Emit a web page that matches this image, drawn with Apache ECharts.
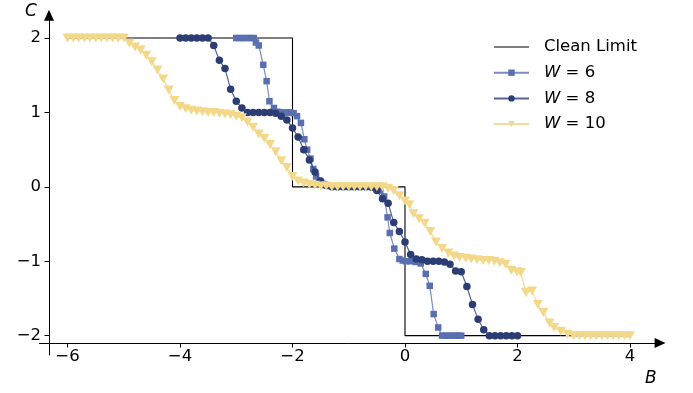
<!DOCTYPE html>
<html>
<head>
<meta charset="utf-8">
<script src="https://cdn.jsdelivr.net/npm/echarts@6/dist/echarts.min.js"></script>
<style>
html, body { margin: 0; padding: 0; background: #fff; }
#chart { width: 693px; height: 393px; }
</style>
</head>
<body>
<div id="chart"></div>
<script>
// data
var xTicks = [-6, -4, -2, 0, 2, 4];
var yTicks = [-2, -1, 0, 1, 2];

var cleanB = [-6, -2, -2, 0, 0, 4];
var cleanC = [2, 2, 0, 0, -2, -2];

var w6B = [-3.0, -2.94, -2.88, -2.81, -2.75, -2.69, -2.65, -2.6, -2.52, -2.46, -2.41, -2.33, -2.27,
    -2.21, -2.16, -2.1, -2.04, -1.98, -1.92, -1.85, -1.79, -1.74, -1.68, -1.63, -1.58, -1.53, -1.47,
    -1.41, -1.35, -1.29, -1.23, -1.17, -1.11, -1.05, -0.99, -0.93, -0.87, -0.81, -0.75, -0.69, -0.63,
    -0.57, -0.51, -0.44, -0.37, -0.31, -0.27, -0.19, -0.1, -0.04, 0.02, 0.1, 0.19, 0.28, 0.37, 0.44,
    0.51, 0.59, 0.66, 0.72, 0.78, 0.84, 0.9, 0.95, 1.0];
var w6C = [2, 2, 2, 2, 2, 2, 1.94, 1.9, 1.64, 1.42, 1.15, 1.06, 1.01,
    1.0, 1.0, 1.0, 1.0, 0.99, 0.95, 0.86, 0.64, 0.5, 0.38, 0.24, 0.14, 0.08, 0.04,
    0.02, 0.01, 0.01, 0, 0, 0, 0, 0, 0, 0, 0, 0, 0, 0,
    -0.01, -0.02, -0.05, -0.13, -0.41, -0.62, -0.83, -0.97, -0.99, -1.0, -1.0, -1.01, -1.03, -1.17, -1.33,
    -1.71, -1.89, -2.0, -2, -2, -2, -2, -2, -2];

var w8B = [-4.0, -3.9, -3.8, -3.7, -3.6, -3.5, -3.4, -3.3, -3.2, -3.1, -3.0, -2.9, -2.8, -2.7, -2.6,
    -2.5, -2.4, -2.3, -2.2, -2.1, -2.0, -1.9, -1.8, -1.7, -1.6, -1.5, -1.4, -1.3, -1.2, -1.1, -1.0,
    -0.9, -0.8, -0.7, -0.6, -0.5, -0.4, -0.3, -0.2, -0.1, 0.0, 0.1, 0.2, 0.3, 0.4, 0.5, 0.6, 0.7,
    0.8, 0.9, 1.0, 1.1, 1.2, 1.3, 1.4, 1.5, 1.6, 1.7, 1.8, 1.9, 2.0];
var w8C = [2, 2, 2, 2, 2, 2, 1.9, 1.7, 1.59, 1.31, 1.15, 1.06, 1.0, 1.0, 1.0,
    1.0, 1.0, 0.99, 0.95, 0.9, 0.79, 0.67, 0.5, 0.36, 0.2, 0.08, 0.02, 0, 0, 0, 0,
    0, 0, 0, 0, -0.05, -0.16, -0.22, -0.48, -0.6, -0.74, -0.91, -0.97, -0.98, -1.0, -1.0, -1.0, -1.01,
    -1.04, -1.13, -1.14, -1.34, -1.58, -1.78, -1.92, -2.0, -2, -2, -2, -2, -2];

var w10B = [-6.0, -5.9, -5.8, -5.7, -5.6, -5.5, -5.4, -5.3, -5.2, -5.1, -5.0,
    -4.9, -4.8, -4.7, -4.6, -4.5, -4.4, -4.3, -4.2, -4.1, -4.0,
    -3.9, -3.8, -3.7, -3.6, -3.5, -3.4, -3.3, -3.2, -3.1, -3.0,
    -2.9, -2.8, -2.7, -2.6, -2.5, -2.4, -2.3, -2.2, -2.1, -2.0,
    -1.9, -1.8, -1.7, -1.6, -1.5, -1.4, -1.3, -1.2, -1.1, -1.0,
    -0.9, -0.8, -0.7, -0.6, -0.5, -0.4, -0.3, -0.2, -0.1, 0.0,
    0.08, 0.15, 0.25, 0.35, 0.45, 0.55, 0.66, 0.77, 0.87, 0.97,
    1.08, 1.18, 1.28, 1.39, 1.49, 1.59, 1.69, 1.79, 1.89, 1.99,
    2.06, 2.15, 2.26, 2.36, 2.46, 2.57, 2.65, 2.77, 2.89, 3.0,
    3.1, 3.2, 3.3, 3.4, 3.5, 3.6, 3.7, 3.8, 3.9, 4.0];
var w10C = [2, 2, 2, 2, 2, 2, 2, 2, 2, 2, 2,
    1.93, 1.88, 1.84, 1.77, 1.68, 1.57, 1.45, 1.3, 1.16, 1.08,
    1.05, 1.03, 1.02, 1.01, 1.0, 1.0, 0.99, 0.98, 0.97, 0.95,
    0.93, 0.87, 0.8, 0.71, 0.65, 0.57, 0.47, 0.35, 0.26, 0.14,
    0.08, 0.05, 0.03, 0.02, 0.01, 0.01, 0, 0, 0, 0,
    0, 0, 0, 0, 0, 0, -0.02, -0.05, -0.12, -0.19,
    -0.24, -0.36, -0.43, -0.49, -0.6, -0.74, -0.83, -0.89, -0.93, -0.95,
    -0.96, -0.97, -0.98, -0.99, -0.99, -1.0, -1.02, -1.04, -1.12, -1.14,
    -1.15, -1.42, -1.4, -1.58, -1.69, -1.83, -1.89, -1.94, -1.98, -2,
    -2, -2, -2, -2, -2, -2, -2, -2, -2, -2];

function pairs(xs, ys) {
    var out = [];
    for (var i = 0; i < xs.length; i++) {
        out.push([xs[i], ys[i]]);
    }
    return out;
}

var FONT = 'DejaVu Sans';
var minus = function (v) { return String(v).replace('-', '\u2212'); };

var chart = echarts.init(document.getElementById('chart'));

var option = {
    animation: false,
    backgroundColor: '#fff',
    textStyle: { fontFamily: FONT, color: '#000' },
    grid: { left: 39.4, right: 34.9, top: 17.2, bottom: 38 },
    xAxis: {
        type: 'value',
        min: -6.5,
        max: 4.5,
        offset: -12,
        splitLine: { show: false },
        axisLine: {
            onZero: false,
            lineStyle: { color: '#000', width: 1 },
            symbol: ['none', 'triangle'],
            symbolSize: [10, 11],
            symbolOffset: [0, 2]
        },
        axisTick: { customValues: xTicks, length: 4.5, lineStyle: { color: '#000' } },
        axisLabel: {
            customValues: xTicks,
            formatter: minus,
            margin: 5,
            color: '#000',
            fontSize: 16.5,
            fontFamily: FONT
        }
    },
    yAxis: {
        type: 'value',
        min: -2.26,
        max: 2.28,
        offset: -9.6,
        splitLine: { show: false },
        axisLine: {
            onZero: false,
            lineStyle: { color: '#000', width: 1 },
            symbol: ['none', 'triangle'],
            symbolSize: [10, 11],
            symbolOffset: [0, 2]
        },
        axisTick: { customValues: yTicks, length: 4.5, lineStyle: { color: '#000' } },
        axisLabel: {
            customValues: yTicks,
            formatter: minus,
            margin: 8,
            color: '#000',
            fontSize: 16.5,
            fontFamily: FONT
        }
    },
    legend: {
        orient: 'vertical',
        left: 488,
        top: 32,
        itemWidth: 35,
        itemHeight: 8,
        itemGap: 5.7,
        data: [
            { name: 'Clean Limit', icon: 'path://M0,0 H35 V1.1 H0 Z' },
            'W = 6', 'W = 8', 'W = 10'
        ],
        formatter: function (name) {
            return name.replace('W', '{i|W}');
        },
        textStyle: {
            fontFamily: FONT,
            fontSize: 16.5,
            lineHeight: 20,
            color: '#000',
            padding: [0, 0, 0, 10],
            rich: {
                i: { fontStyle: 'italic', fontFamily: FONT, fontSize: 16.5, lineHeight: 20, color: '#000' }
            }
        }
    },
    graphic: [
        { type: 'text', left: 645, top: 370, style: { text: 'B', font: 'italic 17px "DejaVu Sans"', fill: '#000' } },
        { type: 'text', left: 25, top: 3, style: { text: 'C', font: 'italic 17px "DejaVu Sans"', fill: '#000' } }
    ],
    series: [
        {
            name: 'Clean Limit',
            type: 'line',
            data: pairs(cleanB, cleanC),
            symbol: 'none',
            color: '#000',
            lineStyle: { color: '#000', width: 1.1 },
            z: 1
        },
        {
            name: 'W = 6',
            type: 'line',
            data: pairs(w6B, w6C),
            symbol: 'rect',
            symbolSize: 6.5,
            showAllSymbol: true,
            color: '#5a6fb0',
            itemStyle: { color: '#5a6fb0' },
            lineStyle: { color: '#5a6fb0', width: 1.2, opacity: 0.8 },
            z: 2
        },
        {
            name: 'W = 8',
            type: 'line',
            data: pairs(w8B, w8C),
            symbol: 'circle',
            symbolSize: 7.5,
            showAllSymbol: true,
            color: '#2c3d74',
            itemStyle: { color: '#2c3d74' },
            lineStyle: { color: '#2c3d74', width: 1.2, opacity: 0.8 },
            z: 3
        },
        {
            name: 'W = 10',
            type: 'line',
            data: pairs(w10B, w10C),
            symbol: 'triangle',
            symbolRotate: 180,
            symbolSize: [10, 9],
            showAllSymbol: true,
            color: '#f4d88a',
            itemStyle: { color: '#f4d88a' },
            lineStyle: { color: '#f4d88a', width: 1.2, opacity: 0.9 },
            z: 4
        }
    ]
};

chart.setOption(option);
</script>
</body>
</html>
